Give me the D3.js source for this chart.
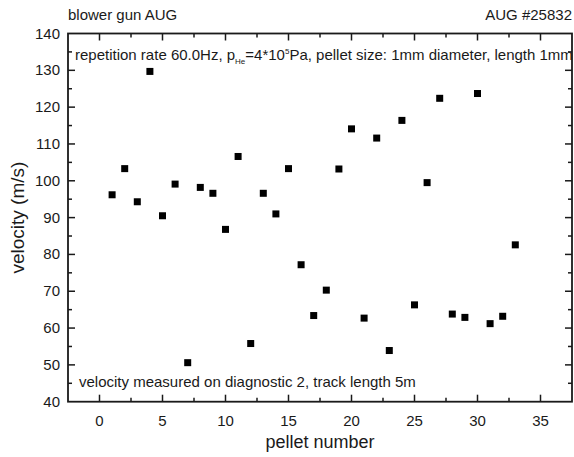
<!DOCTYPE html>
<html>
<head>
<meta charset="utf-8">
<script src="https://cdn.jsdelivr.net/npm/d3@7"></script>
<style>
  body { margin: 0; background: #fff; }
  svg { display: block; font-family: "Liberation Sans", Arial, sans-serif; }
</style>
</head>
<body>
<svg id="chart" width="574" height="457"></svg>
<script>
// pellet number vs measured velocity
const pellets = d3.range(1, 34);
const velocities = [96.2, 103.3, 94.3, 129.7, 90.5, 99.1, 50.6, 98.2, 96.6, 86.8,
                    106.6, 55.8, 96.6, 91.0, 103.3, 77.2, 63.4, 70.3, 103.2, 114.1,
                    62.7, 111.6, 53.9, 116.4, 66.3, 99.5, 122.4, 63.8, 62.9, 123.7,
                    61.2, 63.2, 82.6];
const xTicks = [0, 5, 10, 15, 20, 25, 30, 35];
const yTicks = [40, 50, 60, 70, 80, 90, 100, 110, 120, 130, 140];

const svg = d3.select("#chart");
const m = { left: 68, right: 572, top: 33.5, bottom: 401.7 };

const x = d3.scaleLinear().domain([-2.5, 37.5]).range([m.left, m.right]);
const y = d3.scaleLinear().domain([40, 140]).range([m.bottom, m.top]);

const ink = "#1a1a1a";

// minor ticks sit halfway between majors
const xMinor = d3.range(-2.5, 37.6, 5);
const yMinor = d3.range(45, 140, 10);

function ticks(axis, vals, len) {
    vals.forEach(v => {
        if (axis === "x") {
            const px = x(v);
            svg.append("line").attr("x1", px).attr("x2", px)
                .attr("y1", m.bottom).attr("y2", m.bottom - len)
                .attr("stroke", ink).attr("stroke-width", 1.5);
            svg.append("line").attr("x1", px).attr("x2", px)
                .attr("y1", m.top).attr("y2", m.top + len)
                .attr("stroke", ink).attr("stroke-width", 1.5);
        } else {
            const py = y(v);
            svg.append("line").attr("x1", m.left).attr("x2", m.left + len)
                .attr("y1", py).attr("y2", py)
                .attr("stroke", ink).attr("stroke-width", 1.5);
            svg.append("line").attr("x1", m.right).attr("x2", m.right - len)
                .attr("y1", py).attr("y2", py)
                .attr("stroke", ink).attr("stroke-width", 1.5);
        }
    });
}
ticks("x", xTicks, 7);
ticks("x", xMinor.filter(v => v > -2.5 && v < 37.5), 4);
ticks("y", yTicks.filter(v => v > 40 && v < 140), 7);
ticks("y", yMinor, 4);

svg.append("rect")
    .attr("x", m.left).attr("y", m.top)
    .attr("width", m.right - m.left).attr("height", m.bottom - m.top)
    .attr("fill", "none").attr("stroke", ink).attr("stroke-width", 1.8);

// tick labels
svg.append("g").selectAll("text").data(xTicks).join("text")
    .attr("x", d => x(d)).attr("y", m.bottom + 24)
    .attr("text-anchor", "middle").attr("font-size", 15).attr("fill", ink)
    .text(d => d);

svg.append("g").selectAll("text").data(yTicks).join("text")
    .attr("x", m.left - 8).attr("y", d => y(d) + 5)
    .attr("text-anchor", "end").attr("font-size", 15).attr("fill", ink)
    .text(d => d);

// axis titles
svg.append("text")
    .attr("x", (m.left + m.right) / 2).attr("y", 448)
    .attr("text-anchor", "middle").attr("font-size", 18).attr("fill", ink)
    .text("pellet number");

svg.append("text")
    .attr("transform", `translate(24, ${(m.top + m.bottom) / 2}) rotate(-90)`)
    .attr("text-anchor", "middle").attr("font-size", 19).attr("fill", ink)
    .text("velocity (m/s)");

// header texts
svg.append("text").attr("x", 68).attr("y", 20)
    .attr("font-size", 15).attr("fill", ink).text("blower gun AUG");
svg.append("text").attr("x", 572).attr("y", 20).attr("text-anchor", "end")
    .attr("font-size", 15).attr("fill", ink).text("AUG #25832");

// annotations inside the frame
const note = svg.append("text").attr("x", 75).attr("y", 60)
    .attr("font-size", 15).attr("fill", ink);
note.append("tspan").text("repetition rate 60.0Hz, p");
note.append("tspan").attr("font-size", 8).attr("dy", 4).text("He");
note.append("tspan").attr("dy", -4).text("=4*10");
note.append("tspan").attr("font-size", 8).attr("dy", -6).text("5");
note.append("tspan").attr("dy", 6).text("Pa, pellet size: 1mm diameter, length 1mm");

svg.append("text").attr("x", 79).attr("y", 387)
    .attr("font-size", 15).attr("fill", ink)
    .text("velocity measured on diagnostic 2, track length 5m");

// data markers
const s = 7;
svg.append("g").selectAll("rect").data(pellets).join("rect")
    .attr("x", (d, i) => x(d) - s / 2)
    .attr("y", (d, i) => y(velocities[i]) - s / 2)
    .attr("width", s).attr("height", s)
    .attr("fill", "#000");
</script>
</body>
</html>
